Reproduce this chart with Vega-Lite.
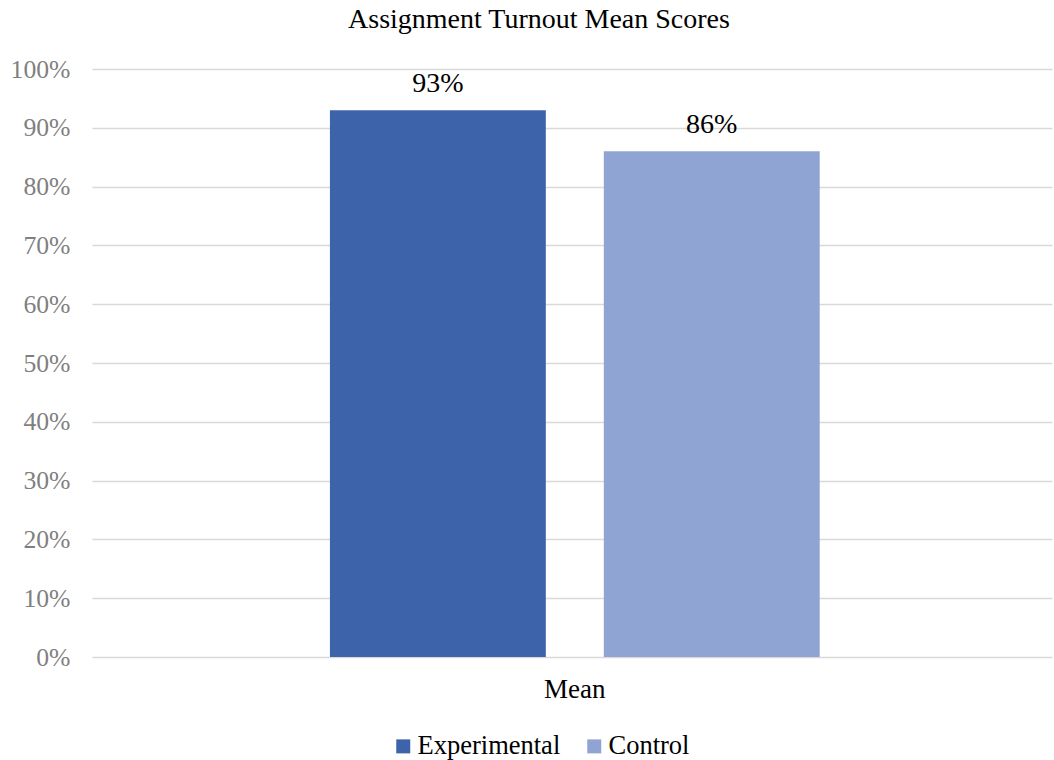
{
  "$schema": "https://vega.github.io/schema/vega-lite/v6.json",
  "autosize": "none",
  "width": 960,
  "height": 588,
  "padding": {"left": 92, "top": 69, "right": 2, "bottom": 103},
  "background": "white",
  "config": {
    "font": "Times New Roman, Liberation Serif, DejaVu Serif",
    "view": {"stroke": null}
  },
  "title": {
    "text": "Assignment  Turnout Mean Scores",
    "fontSize": 28,
    "fontWeight": "normal",
    "color": "#000000",
    "font": "Times New Roman, Liberation Serif, DejaVu Serif",
    "anchor": "middle",
    "dx": -33,
    "offset": 22
  },
  "data": {
    "values": [
      {"category": "Mean", "group": "Experimental", "score": 0.93},
      {"category": "Mean", "group": "Control", "score": 0.86}
    ]
  },
  "encoding": {
    "x": {
      "field": "category",
      "type": "nominal",
      "scale": {"paddingInner": 0, "paddingOuter": 0.48, "align": 0.506},
      "axis": {
        "title": null,
        "labelAngle": 0,
        "labelFontSize": 27,
        "labelFont": "Times New Roman, Liberation Serif, DejaVu Serif",
        "labelColor": "#000000",
        "labelPadding": 19,
        "ticks": false,
        "domain": false,
        "grid": false
      }
    },
    "xOffset": {
      "field": "group",
      "type": "nominal",
      "sort": ["Experimental", "Control"],
      "scale": {"paddingInner": 0.2117, "paddingOuter": 0}
    }
  },
  "layer": [
    {
      "mark": {"type": "bar"},
      "encoding": {
        "y": {
          "field": "score",
          "type": "quantitative",
          "scale": {"domain": [0, 1]},
          "axis": {
            "title": null,
            "format": ".0%",
            "values": [0, 0.1, 0.2, 0.3, 0.4, 0.5, 0.6, 0.7, 0.8, 0.9, 1],
            "labelFontSize": 25.7,
            "labelFont": "Times New Roman, Liberation Serif, DejaVu Serif",
            "labelColor": "#7f7f7f",
            "labelPadding": 22,
            "ticks": false,
            "domain": false,
            "gridColor": "#d9d9d9",
            "gridWidth": 1.5
          }
        },
        "color": {
          "field": "group",
          "type": "nominal",
          "sort": ["Experimental", "Control"],
          "scale": {"domain": ["Experimental", "Control"], "range": ["#3d64ab", "#90a4d4"]},
          "legend": {
            "title": null,
            "orient": "none",
            "direction": "horizontal",
            "legendX": 298,
            "legendY": 664,
            "symbolType": "square",
            "symbolSize": 196,
            "symbolStrokeWidth": 0,
            "labelFontSize": 26.5,
            "labelFont": "Times New Roman, Liberation Serif, DejaVu Serif",
            "labelColor": "#000000",
            "labelOffset": 1,
            "columnPadding": 20
          }
        }
      }
    },
    {
      "mark": {"type": "text", "baseline": "alphabetic", "dy": -18, "fontSize": 28, "color": "#000000", "font": "Times New Roman, Liberation Serif, DejaVu Serif"},
      "encoding": {
        "y": {"field": "score", "type": "quantitative"},
        "text": {"field": "score", "type": "quantitative", "format": ".0%"}
      }
    }
  ]
}
